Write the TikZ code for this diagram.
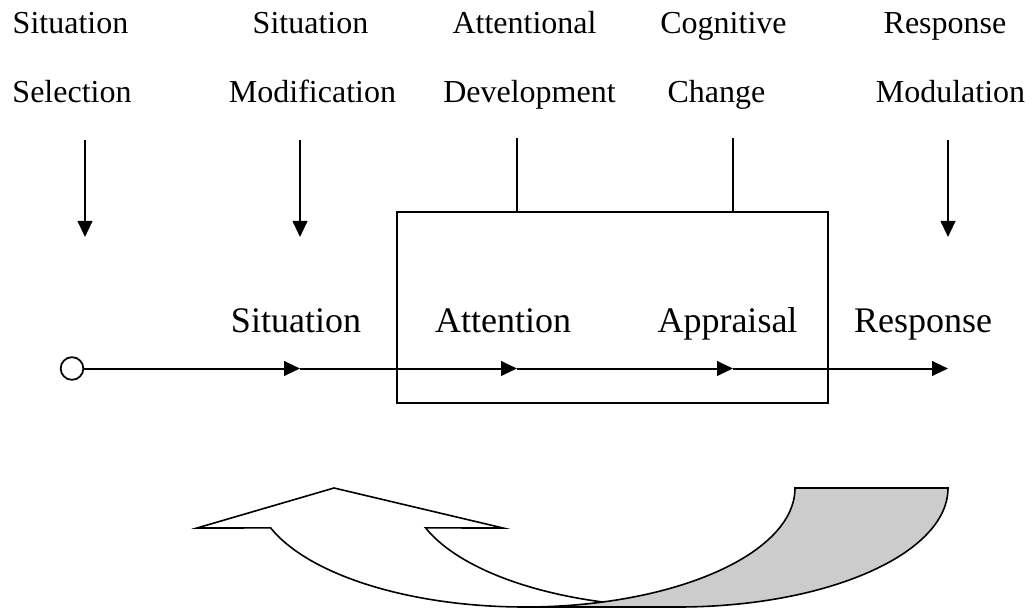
\documentclass[tikz,border=0pt]{standalone}
\usepackage{fontspec}
\setmainfont{Liberation Serif}
\usetikzlibrary{arrows.meta}
\definecolor{tailgray}{HTML}{CCCCCC}
\begin{document}
\begin{tikzpicture}[x=0.75pt,y=0.75pt,
  toplab/.style={font=\fontsize{24}{28}\selectfont, inner sep=0pt, anchor=base},
  midlab/.style={font=\fontsize{27}{32}\selectfont, inner sep=0pt, anchor=base},
  conn/.style={line width=1.5pt, -{Triangle[length=12pt,width=11pt]}},
  plainline/.style={line width=1.5pt},
  ribbon/.style={line width=1.2pt, line join=miter},
]
\useasboundingbox (0,0) rectangle (1034,-609);

% top labels (two lines each)
\node[toplab] (ss1) at (70.5,-33.5) {Situation};
\node[toplab] (ss2) at (72,-102.5) {Selection};
\node[toplab] (sm1) at (310.5,-33.5) {Situation};
\node[toplab] (sm2) at (312.5,-102.5) {Modification};
\node[toplab] (ad1) at (524.5,-33.5) {Attentional};
\node[toplab] (ad2) at (529.5,-102.5) {Development};
\node[toplab] (cc1) at (723.5,-33.5) {Cognitive};
\node[toplab] (cc2) at (716.5,-102.5) {Change};
\node[toplab] (rm1) at (945,-33.5) {Response};
\node[toplab] (rm2) at (950.5,-102.5) {Modulation};

% box
\node (box) [draw, line width=1pt, minimum width=323.25pt, minimum height=143.25pt, inner sep=0pt] at (612.5,-307.5) {};

% down arrows
\coordinate (d1s) at (85,-140);  \coordinate (d1e) at (85,-237);
\coordinate (d2s) at (300,-140); \coordinate (d2e) at (300,-237);
\coordinate (d5s) at (948,-140); \coordinate (d5e) at (948,-237);
\draw[conn] (d1s) -- (d1e);
\draw[conn] (d2s) -- (d2e);
\draw[conn] (d5s) -- (d5e);

% lines into box
\coordinate (c3) at (517,-138);
\coordinate (c4) at (733,-138);
\draw[plainline] (c3) -- (c3 |- box.north);
\draw[plainline] (c4) -- (c4 |- box.north);

% main line
\node (start) [circle, draw, line width=1.3pt, minimum size=17pt, inner sep=0pt] at (72,-368.5) {};
\coordinate (p1) at (300,-368.5);
\coordinate (p2) at (517,-368.5);
\coordinate (p3) at (733,-368.5);
\coordinate (p4) at (948,-368.5);
\draw[conn] (start) -- (p1);
\draw[conn] (p1) -- (p2);
\draw[conn] (p2) -- (p3);
\draw[conn] (p3) -- (p4);

% middle labels
\node[midlab] (lsit) at (296,-332) {Situation};
\node[midlab] (latt) at (503,-332) {Attention};
\node[midlab] (lapp) at (727.5,-332) {Appraisal};
\node[midlab] (lres) at (923,-332) {Response};

% curved arrow (front)
\draw[ribbon, fill=white] (197,-528) -- (334,-488) -- (503,-528) -- (425.6,-527.9)
  arc[start angle=199.6, end angle=270, x radius=202.5pt, y radius=89.25pt]
  -- (525,-607)
  arc[start angle=270, end angle=199.6, x radius=202.5pt, y radius=89.25pt]
  -- cycle;
% tail (underside)
\draw[ribbon, fill=tailgray] (795,-488) -- (948,-488)
  arc[start angle=0, end angle=-90, x radius=202.5pt, y radius=89.25pt]
  -- (525,-607)
  arc[start angle=270, end angle=360, x radius=202.5pt, y radius=89.25pt]
  -- cycle;
\end{tikzpicture}
\end{document}
